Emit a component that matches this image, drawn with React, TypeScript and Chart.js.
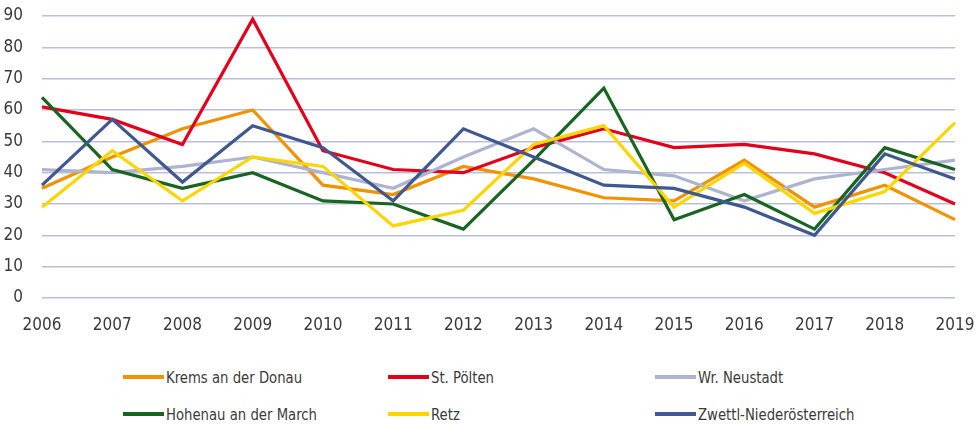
import React, { useEffect, useRef } from "react";
import { Chart, registerables } from "chart.js";

Chart.register(...registerables);

const years = ["2006", "2007", "2008", "2009", "2010", "2011", "2012", "2013", "2014", "2015", "2016", "2017", "2018", "2019"];

const seriesNames = ["Krems an der Donau", "St. Pölten", "Wr. Neustadt", "Hohenau an der March", "Retz", "Zwettl-Niederösterreich"];
const seriesColors = ["#f39200", "#e3001b", "#adb3d0", "#17651f", "#ffd500", "#3f5890"];

const krems = [35, 45, 54, 60, 36, 33, 42, 38, 32, 31, 44, 29, 36, 25];
const stPoelten = [61, 57, 49, 89, 47, 41, 40, 48, 54, 48, 49, 46, 40, 30];
const wrNeustadt = [41, 40, 42, 45, 40, 35, 45, 54, 41, 39, 31, 38, 41, 44];
const hohenau = [64, 41, 35, 40, 31, 30, 22, 44, 67, 25, 33, 22, 48, 41];
const retz = [29, 47, 31, 45, 42, 23, 28, 49, 55, 29, 43, 27, 34, 56];
const zwettl = [36, 57, 37, 55, 48, 31, 54, 45, 36, 35, 29, 20, 46, 38];

const seriesValues = [krems, stPoelten, wrNeustadt, hohenau, retz, zwettl];

const FONT = "'Liberation Sans Narrow', 'DejaVu Sans Condensed', 'Roboto', sans-serif";
const TEXT = "#3a3a3a";

export default function App() {
  const ref = useRef<HTMLCanvasElement | null>(null);

  useEffect(() => {
    if (!ref.current) return;
    const chart = new Chart(ref.current, {
      type: "line",
      data: {
        labels: years,
        datasets: seriesValues.map((vals, i) => ({
          label: seriesNames[i],
          data: vals,
          borderColor: seriesColors[i],
          backgroundColor: seriesColors[i],
          borderWidth: 3.2,
          pointRadius: 0,
          tension: 0,
          fill: false,
          order: 10 - i,
        })),
      },
      options: {
        responsive: false,
        animation: false,
        layout: { padding: { top: 16, right: 24, left: 0, bottom: 0 } },
        plugins: { legend: { display: false }, tooltip: { enabled: false } },
        scales: {
          x: {
            offset: false,
            grid: { display: false, drawTicks: false },
            border: { display: false },
            ticks: { color: TEXT, font: { family: FONT, size: 17 }, padding: 17, maxRotation: 0, autoSkip: false },
            afterFit: (s: any) => { s.height = 42; s.paddingLeft = 0; s.paddingRight = 0; },
          },
          y: {
            min: 0,
            max: 90,
            ticks: { stepSize: 10, color: TEXT, font: { family: FONT, size: 17 }, padding: 19 },
            grid: { color: "#b9bfdb", lineWidth: 1.4, drawTicks: false },
            border: { display: false },
            afterFit: (s: any) => { s.width = 42; s.paddingTop = 0; s.paddingBottom = 0; },
          },
        },
      },
    });
    return () => chart.destroy();
  }, []);

  const cols = [123, 388, 655];
  const rows = [377, 414];

  return (
    <div style={{ position: "absolute", left: 0, top: 0, width: 979, height: 424, background: "#fff", fontFamily: FONT }}>
      <canvas ref={ref} width={979} height={340} style={{ position: "absolute", left: 0, top: 0, width: 979, height: 340 }} />
      {seriesNames.map((name, i) => (
        <div
          key={name}
          style={{
            position: "absolute",
            left: cols[i % 3],
            top: rows[Math.floor(i / 3)] - 12,
            height: 24,
            display: "flex",
            alignItems: "center",
            whiteSpace: "nowrap",
            fontSize: 16,
            color: TEXT,
          }}
        >
          <span style={{ display: "inline-block", width: 41, height: 3.5, background: seriesColors[i], marginRight: 2 }} />
          <span style={{ display: "inline-block", transform: "scaleX(0.92)", transformOrigin: "left center" }}>{name}</span>
        </div>
      ))}
    </div>
  );
}
